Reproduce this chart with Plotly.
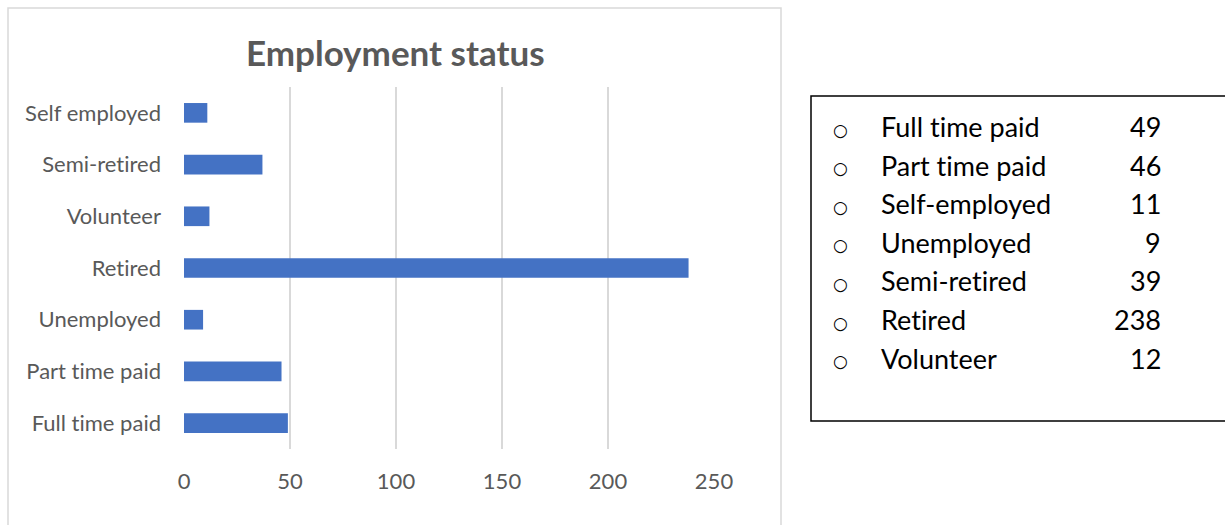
import plotly.graph_objects as go

categories = ["Full time paid", "Part time paid", "Unemployed", "Retired", "Volunteer", "Semi-retired", "Self employed"]
bar_values = [49, 46, 9, 238, 12, 37, 11]

table_labels = ["Full time paid", "Part time paid", "Self-employed", "Unemployed", "Semi-retired", "Retired", "Volunteer"]
table_values = [49, 46, 11, 9, 39, 238, 12]

title_text = "Employment status"
x_ticks = [0, 50, 100, 150, 200, 250]

W, H = 1225, 525
PL, PR, PT, PB = 184, 714, 87, 449  # plot area pixels


def px(x):
    return (x - PL) / (PR - PL)


def py(y):
    return (PB - y) / (PB - PT)


def nolig(s):
    # break the Lato "ti" ligature so the text looks like the original
    return s.replace("ti", "t\u200ci")


fig = go.Figure()
fig.add_trace(go.Bar(
    x=bar_values, y=categories, orientation="h",
    marker=dict(color="#4472C4", line=dict(width=0)),
    width=0.38, hoverinfo="x+y",
))

label_font = dict(family="Lato, Open Sans, sans-serif", size=22, color="#595959")

fig.update_layout(
    width=W, height=H,
    margin=dict(l=PL, r=W - PR, t=PT, b=H - PB, pad=0),
    paper_bgcolor="white", plot_bgcolor="white",
    showlegend=False,
    xaxis=dict(range=[0, 250], tickvals=x_ticks, showgrid=True, gridcolor="#D9D9D9", gridwidth=1.5,
               zeroline=False, showline=False, ticks="", tickfont=label_font,
               ticklabelstandoff=17, fixedrange=True),
    yaxis=dict(categoryorder="array", categoryarray=categories, tickmode="array",
               tickvals=categories, ticktext=[nolig(c) for c in categories],
               showgrid=False, zeroline=False,
               showline=False, ticks="", tickfont=label_font, ticklabelstandoff=22, fixedrange=True),
    shapes=[
        dict(type="rect", xref="paper", yref="paper", x0=px(8), x1=px(781), y0=py(8), y1=py(540),
             line=dict(color="#D9D9D9", width=1.5), fillcolor="rgba(0,0,0,0)", layer="below"),
        dict(type="rect", xref="paper", yref="paper", x0=px(811), x1=px(1240), y0=py(96), y1=py(421),
             line=dict(color="#000000", width=1.5), fillcolor="rgba(0,0,0,0)"),
    ],
)

annotations = [dict(
    text="<b>" + title_text + "</b>", xref="paper", yref="paper", x=px(395), y=py(52),
    xanchor="center", yanchor="middle", showarrow=False,
    font=dict(family="Lato, Open Sans, sans-serif", size=35, color="#595959"),
)]

table_font = dict(family="Lato, Open Sans, sans-serif", size=27, color="#000000")
row_y0, row_dy = 126.5, 38.6
for i, (lab, val) in enumerate(zip(table_labels, table_values)):
    yy = row_y0 + i * row_dy
    annotations.append(dict(text="○", xref="paper", yref="paper", x=px(840), y=py(yy + 3),
                            xanchor="center", yanchor="middle", showarrow=False,
                            font=dict(family="DejaVu Sans, sans-serif", size=17, color="#000000")))
    annotations.append(dict(text=nolig(lab), xref="paper", yref="paper", x=px(879), y=py(yy),
                            xanchor="left", yanchor="middle", showarrow=False, font=table_font))
    annotations.append(dict(text=str(val), xref="paper", yref="paper", x=px(1163), y=py(yy),
                            xanchor="right", yanchor="middle", showarrow=False, font=table_font))

fig.update_layout(annotations=annotations)
fig.write_html("out.html")
